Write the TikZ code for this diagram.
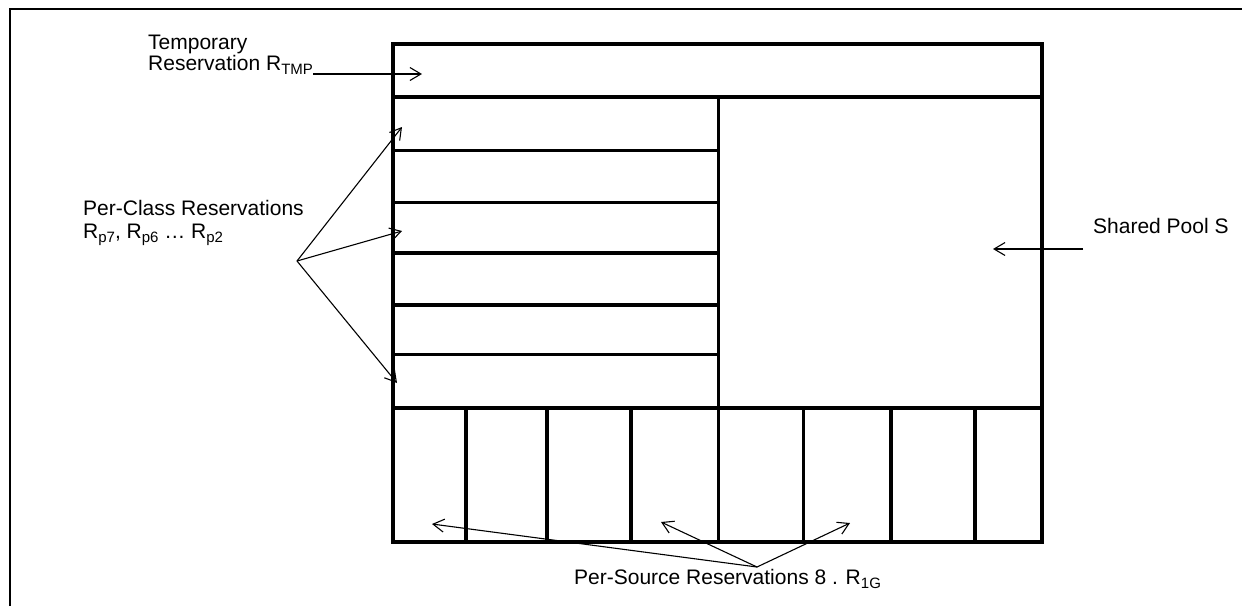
\documentclass[tikz,border=0pt]{standalone}
\usepackage{fontspec}
\setmainfont{Liberation Sans}
\usetikzlibrary{arrows.meta,calc}
\newcommand\sbs[1]{\raisebox{-4.5pt}{\fontsize{15}{15}\selectfont #1}}
\begin{document}
\begin{tikzpicture}[x=1pt,y=-1pt,
  frameline/.style={line width=2.4pt},
  boxline/.style={line width=3.2pt},
  arr/.style={line width=1.1pt,-{Straight Barb[length=11pt,width=13pt,line width=1.1pt]}},
  lbl/.style={inner sep=0pt,anchor=base west,font=\fontsize{21}{24}\selectfont}]
\useasboundingbox (0,0) rectangle (1242,606);
% outer frame (partial)
\draw[frameline] (10,606) -- (10,9) -- (1242,9);
% main box
\draw[boxline] (393,44) rectangle (1042,542);
\draw[boxline] (393,97) -- (1044,97);
\draw[boxline] (391,408) -- (1044,408);
\draw[boxline] (718.5,97) -- (718.5,542);
\foreach \y in {150.5,202.5,253,305,354.5}
  \draw[boxline] (393,\y) -- (718.5,\y);
\foreach \x in {466,547,631,803.5,891,975}
  \draw[boxline] (\x,408) -- (\x,542);
% labels
\node[lbl] (tmp1) at (148,49) {Temporary};
\node[lbl] (tmp2) at (148,70) {Reservation R\sbs{TMP}};
\node[lbl] (pc1) at (83,215) {Per-Class Reservations};
\node[lbl] (pc2) at (83,238) {R\sbs{p7}, R\sbs{p6} … R\sbs{p2}};
\node[lbl] (sp) at (1093,233) {Shared Pool S};
\node[lbl] (ps) at (574,584) {Per-Source Reservations 8 . R\sbs{1G}};
% arrow anchor points
\coordinate (tmpS) at (313,74);
\coordinate (tmpT) at (422,74);
\coordinate (pcO) at (297,261);
\coordinate (pcT1) at (402,127);
\coordinate (pcT2) at (402,231);
\coordinate (pcT3) at (397,383);
\coordinate (spS) at (1083,249);
\coordinate (spT) at (993,249);
\coordinate (psO) at (757,567);
\coordinate (psT1) at (432,524);
\coordinate (psT2) at (661,522);
\coordinate (psT3) at (850,523);
% connectors
\draw[arr] (tmpS) -- (tmpT);
\draw[arr] (pcO) -- (pcT1);
\draw[arr] (pcO) -- (pcT2);
\draw[arr] (pcO) -- (pcT3);
\draw[arr] (spS) -- (spT);
\draw[arr] (psO) -- (psT1);
\draw[arr] (psO) -- (psT2);
\draw[arr] (psO) -- (psT3);
\end{tikzpicture}
\end{document}
